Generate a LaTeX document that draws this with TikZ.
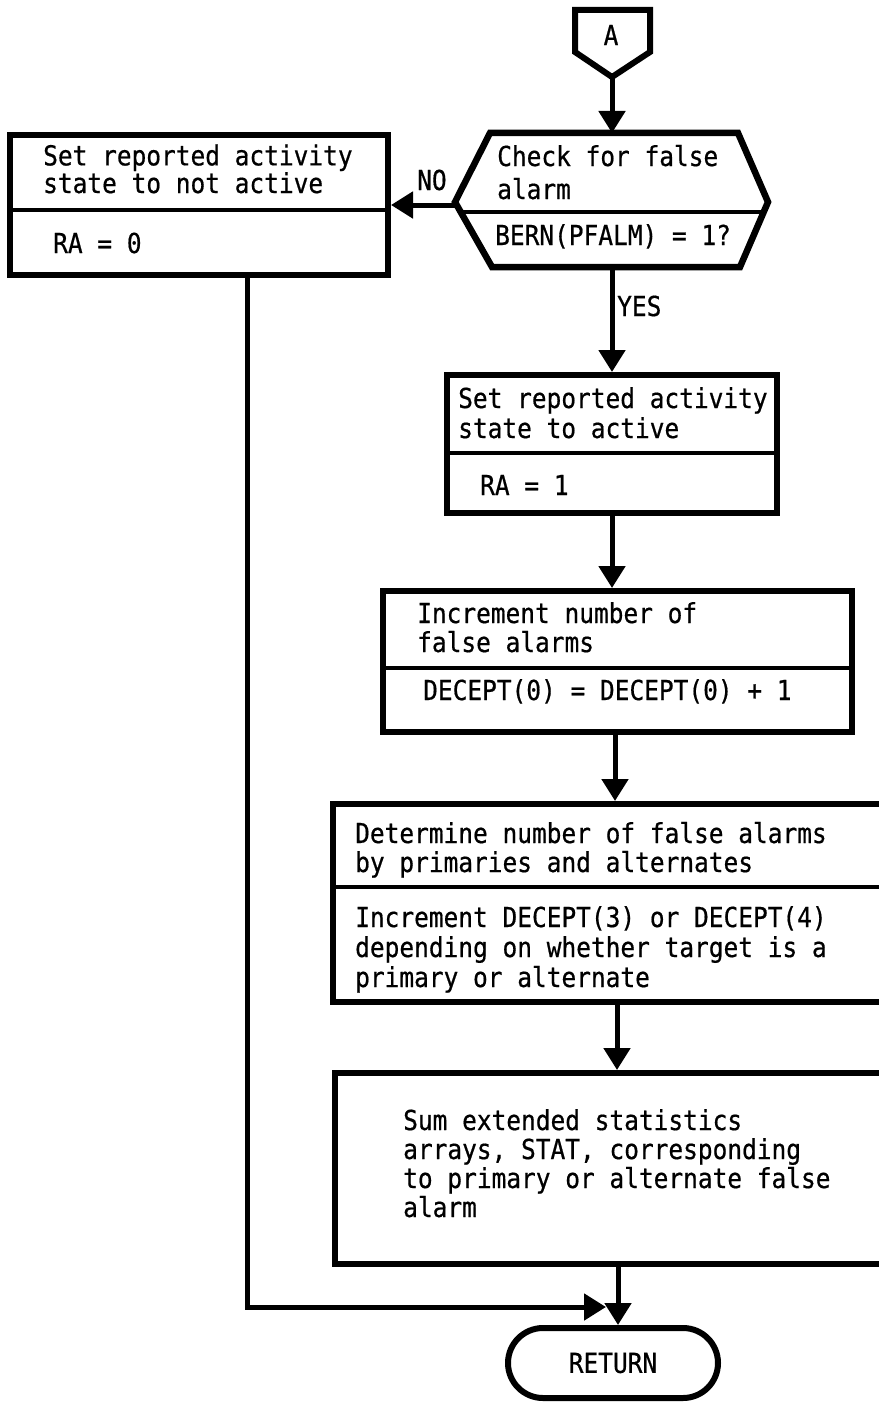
\documentclass[tikz,border=0pt]{standalone}
\usepackage{fontspec}
\setmonofont[FakeStretch=0.89,FakeBold=0.6]{DejaVu Sans Mono}
\usetikzlibrary{arrows.meta,shapes.misc}

\tikzset{
  procbox/.style={draw, rectangle, line width=6pt, inner sep=0pt},
  divline/.style={line width=4.5pt},
  flow/.style={line width=5pt, -{Triangle[length=22pt,width=26pt]}},
  txt/.style={inner sep=0pt, anchor=base west, align=left},
}

\begin{document}
\begin{tikzpicture}[x=1pt, y=-1pt, font=\ttfamily\fontsize{27.5}{30}\selectfont]
	\useasboundingbox (0,0) rectangle (878,1402);
	%%%%% START %%%%%
	% off-page connector A
	\draw[line width=6pt] (575,10) -- (650,10) -- (650,52) -- (612,77) -- (575,52) -- cycle;
	\coordinate (conA) at (612,77);
	\node (labA) at (611,35) {A};
	
	% false alarm check
	\draw[line width=6.5pt] (490,133) -- (738,133) -- (768,202) -- (740,267) -- (492,267) -- (455,202) -- cycle;
	\draw[divline] (459,212) -- (764,212);
	\coordinate (chkT) at (612,133);
	\coordinate (chkL) at (455,205);
	\coordinate (chkB) at (612,267);
	\node[txt, font=\ttfamily\fontsize{27.5}{33}\selectfont] (chkq) at (497,199) {Check for false\\alarm};
	\node[txt] (chkc) at (495,245) {BERN(PFALM) = 1?};
	
	% reported state boxes
	\node[procbox, minimum width=378, minimum height=140] (notactive) at (199,205) {};
	\draw[divline] (notactive.west |- 0,210) -- (notactive.east |- 0,210);
	\node[txt, font=\ttfamily\fontsize{27.5}{23}\selectfont] (notactq) at (43,193) {Set reported activity\\state to not active};
	\node[txt] (notactc) at (53,253) {RA = 0};
	
	\node[procbox, minimum width=330, minimum height=138] (active) at (612,444) {};
	\draw[divline] (active.west |- 0,453) -- (active.east |- 0,453);
	\node[txt] (actq) at (458,438) {Set reported activity\\state to active};
	\node[txt] (actc) at (480,495) {RA = 1};
	
	% false alarm counters
	\node[procbox, minimum width=469, minimum height=141] (count) at (617.5,661.5) {};
	\draw[divline] (count.west |- 0,668) -- (count.east |- 0,668);
	\node[txt, font=\ttfamily\fontsize{27.5}{29}\selectfont] (countq) at (417,652) {Increment number of\\false alarms};
	\node[txt] (countc) at (423,700) {DECEPT(0) = DECEPT(0) + 1};
	
	\node[procbox, minimum width=551, minimum height=198] (bytype) at (608.5,903) {};
	\draw[divline] (bytype.west |- 0,887) -- (bytype.east |- 0,887);
	\node[txt, font=\ttfamily\fontsize{27.5}{29}\selectfont] (bytypeq) at (355,872) {Determine number of false alarms\\by primaries and alternates};
	\node[txt] (bytypec) at (355,987) {Increment DECEPT(3) or DECEPT(4)\\depending on whether target is a\\primary or alternate};
	
	\node[procbox, minimum width=549, minimum height=191] (sumstat) at (609.5,1168.5) {};
	\node[txt, font=\ttfamily\fontsize{27.5}{29}\selectfont] (sumq) at (403,1217) {Sum extended statistics\\arrays, STAT, corresponding\\to primary or alternate false\\alarm};
	
	% exit
	\node[draw, rounded rectangle, line width=6pt, minimum width=210, minimum height=70, inner sep=0pt] (ret) at (613,1363) {RETURN};
	\coordinate (merge) at (606,1307);
	
	% flow lines
	\draw[flow] (conA) -- (chkT);
	\draw[flow] (chkL) -- (notactive.east |- chkL);
	\node[txt] (nolab) at (417,190) {NO};
	\draw[flow] (chkB) -- (active.north);
	\node[txt] (yeslab) at (617,316) {YES};
	\draw[flow] (active.south) -- (active.south |- count.north);
	\draw[flow] ([xshift=-2.5pt]count.south) -- ([xshift=-2.5pt]count.south |- bytype.north);
	\draw[flow] ([xshift=8.5pt]bytype.south) -- ([xshift=8.5pt]bytype.south |- sumstat.north);
	\draw[flow] ([xshift=8.5pt]sumstat.south) -- ([xshift=8.5pt]sumstat.south |- ret.north);
	\draw[flow] ([xshift=48pt]notactive.south) |- (merge);
	%%%%% END %%%%%
\end{tikzpicture}
\end{document}
